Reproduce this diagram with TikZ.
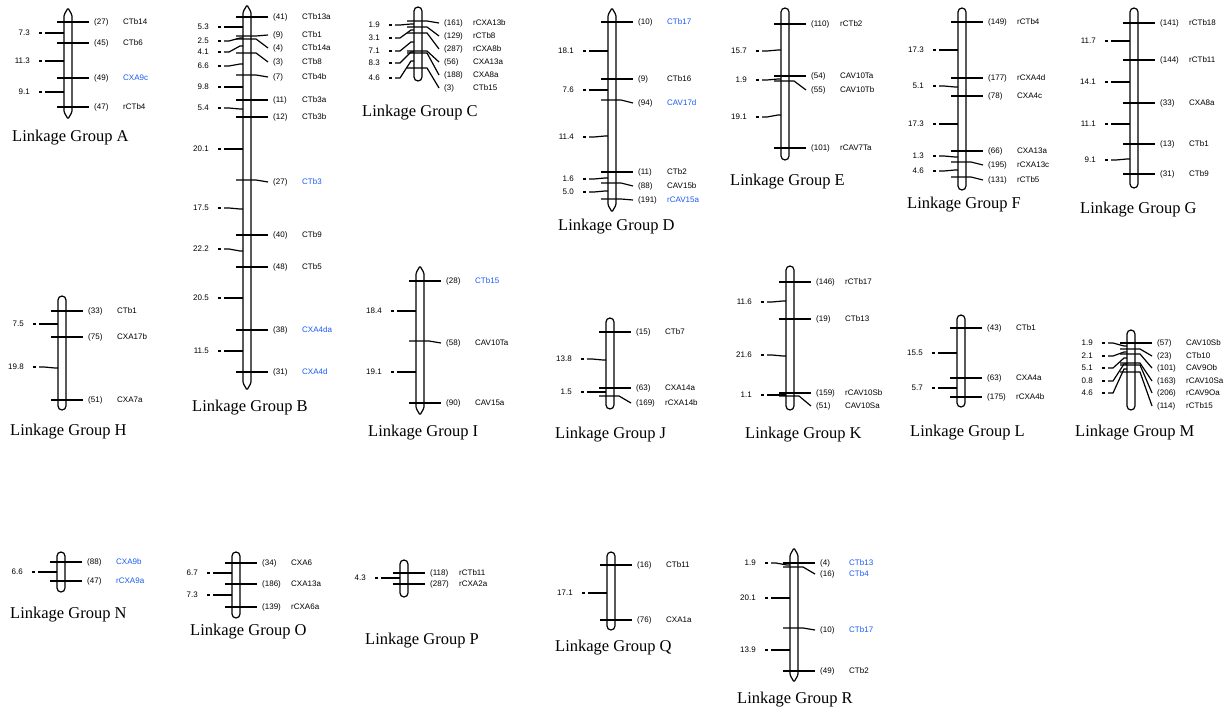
\documentclass[tikz,border=0pt]{standalone}
\usepackage{fontspec}
\setmainfont{Liberation Serif}
\newfontfamily\lblfont{Liberation Sans}
\definecolor{mkblue}{RGB}{25,90,245}
\tikzset{
 chrom/.style={draw=black, line width=1.2pt},
 tick/.style={draw=black, line width=1.2pt},
 numl/.style={font=\lblfont\fontsize{8}{9}\selectfont, inner sep=0pt},
 gtitle/.style={font=\fontsize{16.5}{18}\selectfont, inner sep=0pt, anchor=west},
}
% rounded chromosome: cx, top, bottom
\newcommand\chr[3]{\draw[chrom,rounded corners=4pt] ({#1-4},#2) rectangle ({#1+4},#3);}
% pointed chromosome
\newcommand\chp[3]{\draw[chrom,rounded corners=1.2pt] ({#1-4},{#2+7}) -- (#1,#2) -- ({#1+4},{#2+7}) -- ({#1+4},{#3-7}) -- (#1,#3) -- ({#1-4},{#3-7}) -- cycle;}
% marker: id, cx, tick y, label y, number, name, colour
\newcommand\mk[7]{%
 \node[numl,anchor=west] (n#1) at ({#2+26},#4) {(#5)};
 \node[numl,anchor=west,text=#7] (m#1) at ({#2+55},#4) {#6};
 \draw[tick] ({#2-11},#3) -- ({#2+9},#3) -- ([xshift=-5pt]n#1.west);
}
% distance: id, cx, label y, attach y, value
\newcommand\ds[5]{%
 \node[numl,anchor=east] (d#1) at ({#2-38},#3) {#5};
 \draw[tick] ([xshift=9pt]d#1.east) -- ++(3,0);
 \draw[tick] ([xshift=15pt]d#1.east) -- ({#2-18},#3) -- ({#2-7},#4) -- ({#2-4},#4);
}
\begin{document}
\begin{tikzpicture}[x=1pt,y=-1pt]
\useasboundingbox (0,0) rectangle (1231,712);
% ---------- A
\chp{68}{8}{119}
\mk{A1}{68}{22}{22}{27}{CTb14}{black}
\mk{A2}{68}{43}{43}{45}{CTb6}{black}
\mk{A3}{68}{78}{78}{49}{CXA9c}{mkblue}
\mk{A4}{68}{107}{107}{47}{rCTb4}{black}
\ds{A1}{68}{33}{33}{7.3}
\ds{A2}{68}{61}{61}{11.3}
\ds{A3}{68}{92}{92}{9.1}
\node[gtitle] (tA) at (12,138) {Linkage Group A};
% ---------- B
\chp{247}{5}{390}
\mk{B1}{247}{17}{17}{41}{CTb13a}{black}
\mk{B2}{247}{36}{35}{9}{CTb1}{black}
\mk{B3}{247}{39}{48}{4}{CTb14a}{black}
\mk{B4}{247}{53}{62}{3}{CTb8}{black}
\mk{B5}{247}{75}{77}{7}{CTb4b}{black}
\mk{B6}{247}{100}{100}{11}{CTb3a}{black}
\mk{B7}{247}{117}{117}{12}{CTb3b}{black}
\mk{B8}{247}{180}{182}{27}{CTb3}{mkblue}
\mk{B9}{247}{235}{235}{40}{CTb9}{black}
\mk{B10}{247}{267}{267}{48}{CTb5}{black}
\mk{B11}{247}{330}{330}{38}{CXA4da}{mkblue}
\mk{B12}{247}{372}{372}{31}{CXA4d}{mkblue}
\ds{B1}{247}{27}{27}{5.3}
\ds{B2}{247}{41}{38}{2.5}
\ds{B3}{247}{52}{46}{4.1}
\ds{B4}{247}{66}{64}{6.6}
\ds{B5}{247}{87}{87}{9.8}
\ds{B6}{247}{108}{109}{5.4}
\ds{B7}{247}{149}{149}{20.1}
\ds{B8}{247}{208}{209}{17.5}
\ds{B9}{247}{249}{251}{22.2}
\ds{B10}{247}{298}{298}{20.5}
\ds{B11}{247}{351}{351}{11.5}
\node[gtitle] (tB) at (192,408) {Linkage Group B};
% ---------- C
\chr{418}{7}{81}
\mk{C1}{418}{21}{23}{161}{rCXA13b}{black}
\mk{C2}{418}{27}{36}{129}{rCTb8}{black}
\mk{C3}{418}{33}{49}{287}{rCXA8b}{black}
\mk{C4}{418}{51}{62}{56}{CXA13a}{black}
\mk{C5}{418}{53}{75}{188}{CXA8a}{black}
\mk{C6}{418}{68}{88}{3}{CTb15}{black}
\ds{C1}{418}{25}{24}{1.9}
\ds{C2}{418}{38}{30}{3.1}
\ds{C3}{418}{51}{42}{7.1}
\ds{C4}{418}{63}{52}{8.3}
\ds{C5}{418}{78}{61}{4.6}
\node[gtitle] (tC) at (362,113) {Linkage Group C};
% ---------- D
\chp{612}{8}{212}
\mk{D1}{612}{22}{22}{10}{CTb17}{mkblue}
\mk{D2}{612}{79}{79}{9}{CTb16}{black}
\mk{D3}{612}{100}{103}{94}{CAV17d}{mkblue}
\mk{D4}{612}{172}{172}{11}{CTb2}{black}
\mk{D5}{612}{183}{186}{88}{CAV15b}{black}
\mk{D6}{612}{199}{200}{191}{rCAV15a}{mkblue}
\ds{D1}{612}{51}{51}{18.1}
\ds{D2}{612}{90}{90}{7.6}
\ds{D3}{612}{137}{136}{11.4}
\ds{D4}{612}{179}{178}{1.6}
\ds{D5}{612}{192}{191}{5.0}
\node[gtitle] (tD) at (558,227) {Linkage Group D};
% ---------- E
\chr{785}{8}{160}
\mk{E1}{785}{24}{24}{110}{rCTb2}{black}
\mk{E2}{785}{76}{76}{54}{CAV10Ta}{black}
\mk{E3}{785}{81}{90}{55}{CAV10Tb}{black}
\mk{E4}{785}{148}{148}{101}{rCAV7Ta}{black}
\ds{E1}{785}{51}{50}{15.7}
\ds{E2}{785}{80}{79}{1.9}
\ds{E3}{785}{117}{115}{19.1}
\node[gtitle] (tE) at (730,182) {Linkage Group E};
% ---------- F
\chr{962}{8}{190}
\mk{F1}{962}{22}{22}{149}{rCTb4}{black}
\mk{F2}{962}{78}{78}{177}{rCXA4d}{black}
\mk{F3}{962}{96}{96}{78}{CXA4c}{black}
\mk{F4}{962}{151}{151}{66}{CXA13a}{black}
\mk{F5}{962}{162}{165}{195}{rCXA13c}{black}
\mk{F6}{962}{177}{180}{131}{rCTb5}{black}
\ds{F1}{962}{50}{50}{17.3}
\ds{F2}{962}{86}{87}{5.1}
\ds{F3}{962}{124}{124}{17.3}
\ds{F4}{962}{156}{157}{1.3}
\ds{F5}{962}{171}{170}{4.6}
\node[gtitle] (tF) at (907,205) {Linkage Group F};
% ---------- G
\chr{1134}{8}{188}
\mk{G1}{1134}{23}{23}{141}{rCTb18}{black}
\mk{G2}{1134}{60}{60}{144}{rCTb11}{black}
\mk{G3}{1134}{103}{103}{33}{CXA8a}{black}
\mk{G4}{1134}{144}{144}{13}{CTb1}{black}
\mk{G5}{1134}{174}{174}{31}{CTb9}{black}
\ds{G1}{1134}{41}{41}{11.7}
\ds{G2}{1134}{82}{82}{14.1}
\ds{G3}{1134}{124}{124}{11.1}
\ds{G4}{1134}{160}{159}{9.1}
\node[gtitle] (tG) at (1080,210) {Linkage Group G};
% ---------- H
\chr{62}{296}{410}
\mk{H1}{62}{311}{311}{33}{CTb1}{black}
\mk{H2}{62}{337}{337}{75}{CXA17b}{black}
\mk{H3}{62}{400}{400}{51}{CXA7a}{black}
\ds{H1}{62}{324}{324}{7.5}
\ds{H2}{62}{367}{368}{19.8}
\node[gtitle] (tH) at (10,432) {Linkage Group H};
% ---------- I
\chp{420}{266}{415}
\mk{I1}{420}{281}{281}{28}{CTb15}{mkblue}
\mk{I2}{420}{341}{343}{58}{CAV10Ta}{black}
\mk{I3}{420}{403}{403}{90}{CAV15a}{black}
\ds{I1}{420}{311}{311}{18.4}
\ds{I2}{420}{372}{372}{19.1}
\node[gtitle] (tI) at (368,433) {Linkage Group I};
% ---------- J
\chr{610}{318}{409}
\mk{J1}{610}{332}{332}{15}{CTb7}{black}
\mk{J2}{610}{388}{388}{63}{CXA14a}{black}
\mk{J3}{610}{396}{403}{169}{rCXA14b}{black}
\ds{J1}{610}{359}{360}{13.8}
\ds{J2}{610}{392}{392}{1.5}
\node[gtitle] (tJ) at (555,435) {Linkage Group J};
% ---------- K
\chr{790}{266}{410}
\mk{K1}{790}{282}{282}{146}{rCTb17}{black}
\mk{K2}{790}{319}{319}{19}{CTb13}{black}
\mk{K3}{790}{393}{393}{159}{rCAV10Sb}{black}
\mk{K4}{790}{396}{406}{51}{CAV10Sa}{black}
\ds{K1}{790}{302}{301}{11.6}
\ds{K2}{790}{355}{356}{21.6}
\ds{K3}{790}{395}{395}{1.1}
\node[gtitle] (tK) at (745,435) {Linkage Group K};
% ---------- L
\chr{961}{315}{407}
\mk{L1}{961}{328}{328}{43}{CTb1}{black}
\mk{L2}{961}{378}{378}{63}{CXA4a}{black}
\mk{L3}{961}{397}{397}{175}{rCXA4b}{black}
\ds{L1}{961}{353}{353}{15.5}
\ds{L2}{961}{388}{388}{5.7}
\node[gtitle] (tL) at (910,433) {Linkage Group L};
% ---------- M
\chr{1131}{330}{410}
\mk{M1}{1131}{343}{343}{57}{CAV10Sb}{black}
\mk{M2}{1131}{349}{356}{23}{CTb10}{black}
\mk{M3}{1131}{354}{368}{101}{CAV9Ob}{black}
\mk{M4}{1131}{363}{381}{163}{rCAV10Sa}{black}
\mk{M5}{1131}{365}{393}{206}{rCAV9Oa}{black}
\mk{M6}{1131}{372}{406}{114}{rCTb15}{black}
\ds{M1}{1131}{343}{346}{1.9}
\ds{M2}{1131}{356}{352}{2.1}
\ds{M3}{1131}{368}{358}{5.1}
\ds{M4}{1131}{381}{364}{0.8}
\ds{M5}{1131}{393}{369}{4.6}
\node[gtitle] (tM) at (1075,433) {Linkage Group M};
% ---------- N
\chr{61}{552}{592}
\mk{N1}{61}{562}{562}{88}{CXA9b}{mkblue}
\mk{N2}{61}{581}{581}{47}{rCXA9a}{mkblue}
\ds{N1}{61}{572}{572}{6.6}
\node[gtitle] (tN) at (10,615) {Linkage Group N};
% ---------- O
\chr{236}{552}{618}
\mk{O1}{236}{563}{563}{34}{CXA6}{black}
\mk{O2}{236}{584}{584}{186}{CXA13a}{black}
\mk{O3}{236}{607}{607}{139}{rCXA6a}{black}
\ds{O1}{236}{573}{573}{6.7}
\ds{O2}{236}{595}{595}{7.3}
\node[gtitle] (tO) at (190,632) {Linkage Group O};
% ---------- P
\chr{404}{560}{597}
\mk{P1}{404}{573}{573}{118}{rCTb11}{black}
\mk{P2}{404}{584}{584}{287}{rCXA2a}{black}
\ds{P1}{404}{578}{578}{4.3}
\node[gtitle] (tP) at (365,641) {Linkage Group P};
% ---------- Q
\chr{611}{552}{630}
\mk{Q1}{611}{565}{565}{16}{CTb11}{black}
\mk{Q2}{611}{620}{620}{76}{CXA1a}{black}
\ds{Q1}{611}{593}{593}{17.1}
\node[gtitle] (tQ) at (555,648) {Linkage Group Q};
% ---------- R
\chp{794}{548}{682}
\mk{R1}{794}{563}{563}{4}{CTb13}{mkblue}
\mk{R2}{794}{567}{574}{16}{CTb4}{mkblue}
\mk{R3}{794}{628}{630}{10}{CTb17}{mkblue}
\mk{R4}{794}{671}{671}{49}{CTb2}{black}
\ds{R1}{794}{563}{565}{1.9}
\ds{R2}{794}{598}{598}{20.1}
\ds{R3}{794}{650}{650}{13.9}
\node[gtitle] (tR) at (737,700) {Linkage Group R};
\end{tikzpicture}
\end{document}
